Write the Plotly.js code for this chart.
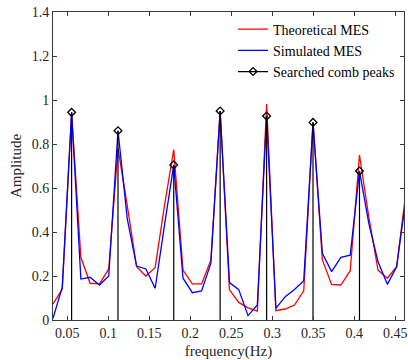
<!DOCTYPE html>
<html>
<head>
<meta charset="utf-8">
<script src="https://cdn.plot.ly/plotly-3.0.1.min.js"></script>
<style>html,body{margin:0;padding:0;background:#fff;}#chart{width:408px;height:360px;}</style>
</head>
<body>
<div id="chart"></div>
<script>
var freq = [0.0326,0.0439,0.0553,0.0666,0.0779,0.0893,0.1006,0.1119,0.1232,0.1346,
            0.1459,0.1572,0.1686,0.1799,0.1912,0.2026,0.2139,0.2252,0.2365,0.2479,
            0.2592,0.2705,0.2819,0.2932,0.3045,0.3159,0.3272,0.3385,0.3498,0.3612,
            0.3725,0.3838,0.3952,0.4065,0.4178,0.4291,0.4405,0.4518,0.4631];
var theoretical = [0.073,0.14,0.94,0.285,0.167,0.164,0.232,0.78,0.52,0.242,
                   0.2,0.238,0.52,0.775,0.227,0.164,0.164,0.273,0.95,0.137,
                   0.08,0.055,0.04,0.982,0.042,0.05,0.068,0.133,0.9,0.273,
                   0.162,0.159,0.224,0.75,0.47,0.227,0.19,0.242,0.58];
var simulated = [0.008,0.149,0.944,0.186,0.194,0.159,0.2,0.86,0.46,0.245,
                 0.232,0.144,0.43,0.705,0.19,0.124,0.132,0.258,0.95,0.17,
                 0.138,0.02,0.068,0.927,0.053,0.106,0.139,0.179,0.898,0.303,
                 0.22,0.285,0.295,0.677,0.44,0.265,0.162,0.242,0.55];
var peakFreq = [0.0553,0.1119,0.1799,0.2365,0.2932,0.3498,0.4065];
var peakAmp  = [0.944,0.86,0.705,0.95,0.927,0.898,0.677];

var stemX = [], stemY = [], dX = [], dY = [];
for (var i = 0; i < peakFreq.length; i++) {
  stemX.push(peakFreq[i], peakFreq[i], null);
  stemY.push(0, peakAmp[i], null);
  dX.push(peakFreq[i], null);
  dY.push(peakAmp[i], null);
}

var font = "'Liberation Serif','Times New Roman',serif";
var traces = [
  {x: freq, y: theoretical, mode: 'lines', name: 'Theoretical MES',
   line: {color: '#ff0000', width: 1.3}},
  {x: freq, y: simulated, mode: 'lines', name: 'Simulated MES',
   line: {color: '#0000ff', width: 1.3}},
  {x: stemX, y: stemY, mode: 'lines', showlegend: false, hoverinfo: 'skip',
   line: {color: '#000000', width: 1.2}},
  {x: dX, y: dY, mode: 'lines+markers', name: 'Searched comb peaks', connectgaps: false,
   line: {color: '#000000', width: 1.3},
   marker: {symbol: 'diamond-open', size: 6, color: '#000000', line: {width: 1.3}}}
];

var axisCommon = {
  showline: true, mirror: 'ticks', linecolor: '#3a3a3a', linewidth: 1,
  ticks: 'inside', ticklen: 4, tickcolor: '#3a3a3a', zeroline: false, showgrid: false,
  tickfont: {family: font, size: 14, color: '#262626'}
};

var layout = {
  width: 408, height: 360,
  margin: {l: 53, r: 4, t: 12, b: 40},
  paper_bgcolor: '#ffffff', plot_bgcolor: '#ffffff',
  showlegend: true,
  legend: {x: 0.513, xanchor: 'left', y: 0.995, yanchor: 'top', bgcolor: 'rgba(0,0,0,0)',
           font: {family: font, size: 14, color: '#000'}, tracegroupgap: 0},
  xaxis: Object.assign({}, axisCommon, {
    range: [0.0326, 0.4608], tickvals: [0.05,0.1,0.15,0.2,0.25,0.3,0.35,0.4,0.45],
    ticktext: ['0.05','0.1','0.15','0.2','0.25','0.3','0.35','0.4','0.45'],
    title: {text: 'frequency(Hz)', font: {family: font, size: 15, color: '#262626'}, standoff: 5}
  }),
  yaxis: Object.assign({}, axisCommon, {
    range: [0, 1.4], tickvals: [0,0.2,0.4,0.6,0.8,1,1.2,1.4],
    ticktext: ['0','0.2','0.4','0.6','0.8','1','1.2','1.4'],
    title: {text: 'Amplitude', font: {family: font, size: 15, color: '#262626'}, standoff: 6}
  })
};

Plotly.newPlot('chart', traces, layout, {staticPlot: true, displayModeBar: false});
</script>
</body>
</html>
